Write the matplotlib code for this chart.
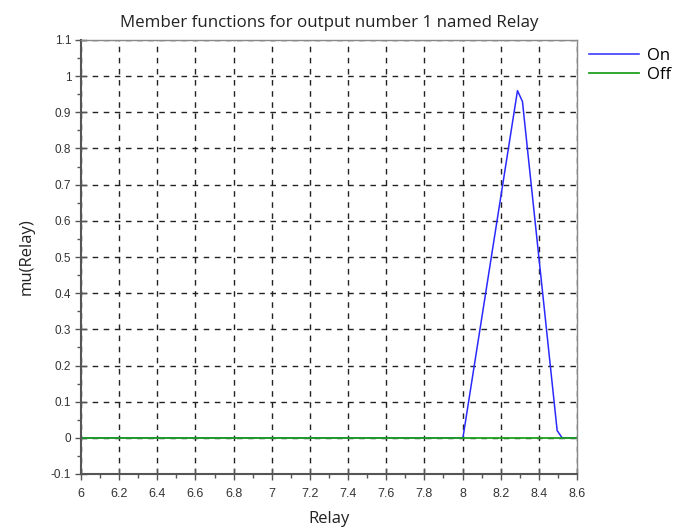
import matplotlib
matplotlib.use("Agg")
import matplotlib.pyplot as plt
from matplotlib.ticker import MultipleLocator

# Data
on_x = [6.0, 8.002, 8.288, 8.314, 8.496, 8.522, 8.6]
on_y = [0.0, 0.0, 0.96, 0.93, 0.02, 0.0, 0.0]
off_x = [6.0, 8.6]
off_y = [0.0, 0.0]
series_names = ["On", "Off"]
title = "Member functions for output number 1 named Relay"
xlabel = "Relay"
ylabel = "mu(Relay)"
xticks = [6, 6.2, 6.4, 6.6, 6.8, 7, 7.2, 7.4, 7.6, 7.8, 8, 8.2, 8.4, 8.6]
xticklabels = ["6", "6.2", "6.4", "6.6", "6.8", "7", "7.2", "7.4", "7.6", "7.8", "8", "8.2", "8.4", "8.6"]
yticks = [-0.1, 0, 0.1, 0.2, 0.3, 0.4, 0.5, 0.6, 0.7, 0.8, 0.9, 1, 1.1]
yticklabels = ["-0.1", "0", "0.1", "0.2", "0.3", "0.4", "0.5", "0.6", "0.7", "0.8", "0.9", "1", "1.1"]

fig = plt.figure(figsize=(6.73, 5.28), dpi=100)
ax = fig.add_axes([81/673, 1 - 474/528, (577-81)/673, (474-40)/528])

l1, = ax.plot(on_x, on_y, color="#2a2aff", lw=1.1, label=series_names[0])
l2, = ax.plot(off_x, off_y, color="#20a020", lw=1.3, label=series_names[1])

ax.set_xlim(6, 8.6)
ax.set_ylim(-0.1, 1.1)
ax.set_xticks(xticks)
ax.set_xticklabels(xticklabels)
ax.set_yticks(yticks)
ax.set_yticklabels(yticklabels)
ax.xaxis.set_minor_locator(MultipleLocator(0.1))
ax.yaxis.set_minor_locator(MultipleLocator(0.05))

ax.grid(True, which="major", color="#222222", linestyle=(0, (4, 4)), lw=1.0)
ax.tick_params(which="major", direction="inout", length=8, width=1.0, color="#555555",
               labelsize=8.5, labelcolor="#333333", top=False, right=False)
ax.tick_params(which="minor", direction="out", length=3, width=1.0, color="#555555",
               top=False, right=False)
for lab in ax.get_xticklabels() + ax.get_yticklabels():
    lab.set_family("Liberation Sans")
ax.tick_params(axis="x", pad=6, labelsize=9)
ax.tick_params(axis="y", pad=3)

for side in ["left", "bottom"]:
    ax.spines[side].set_color("#555555")
    ax.spines[side].set_linewidth(1.5)
for side in ["top", "right"]:
    ax.spines[side].set_color("#888888")
    ax.spines[side].set_linewidth(1.0)

ax.set_title(title, fontsize=12.2, family="Open Sans", pad=9, color="#222222")
ax.set_xlabel(xlabel, fontsize=12, family="Open Sans", labelpad=8, color="#222222")
ax.set_ylabel(ylabel, fontsize=12, family="Open Sans", labelpad=12, color="#222222")

fig.legend(handles=[l1, l2], loc="upper left", bbox_to_anchor=(589/673, 1 - 48/528),
           frameon=False, prop={"family": "Open Sans", "size": 12}, handlelength=3.0,
           handletextpad=0.5, labelspacing=0.2, borderpad=0.0, borderaxespad=0.0)

fig.savefig("out.png", dpi=100)
